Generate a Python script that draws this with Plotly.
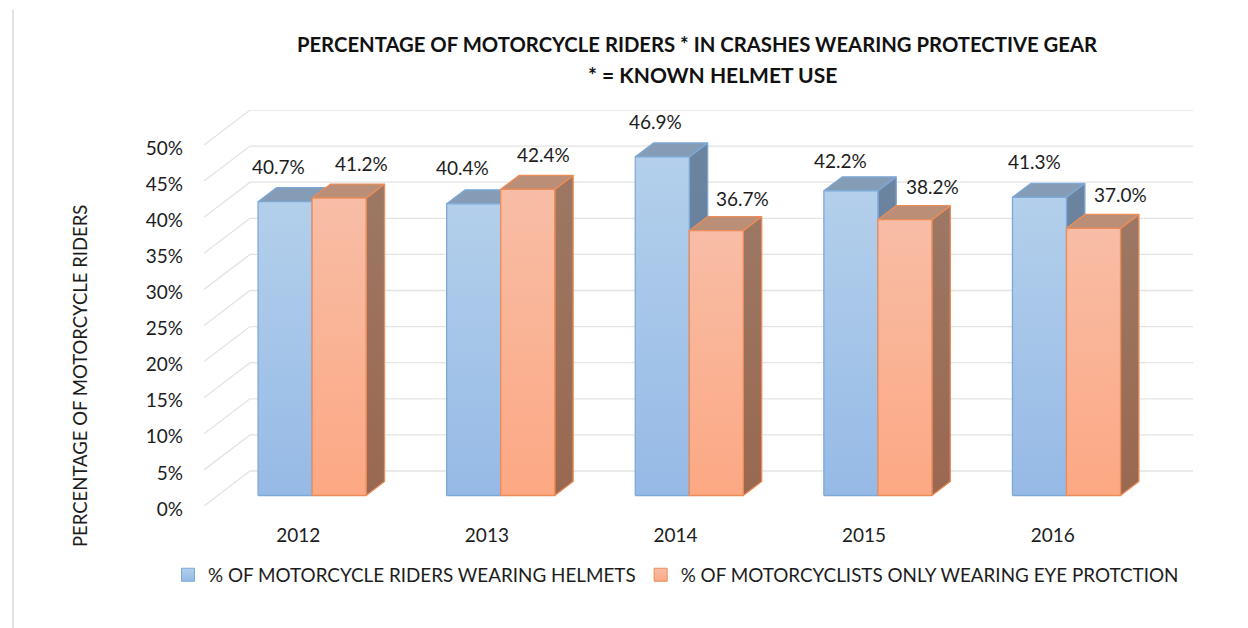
import plotly.graph_objects as go

years = ["2012", "2013", "2014", "2015", "2016"]
helmet_pct = [40.7, 40.4, 46.9, 42.2, 41.3]
eye_pct = [41.2, 42.4, 36.7, 38.2, 37.0]
y_ticks = [0, 5, 10, 15, 20, 25, 30, 35, 40, 45, 50]
helmet_name = "% OF MOTORCYCLE RIDERS WEARING HELMETS"
eye_name = "% OF MOTORCYCLISTS ONLY WEARING EYE PROTCTION"
title_line_1 = "PERCENTAGE OF MOTORCYCLE RIDERS * IN CRASHES WEARING PROTECTIVE GEAR"
title_line_2 = "* = KNOWN HELMET USE"
y_title = "PERCENTAGE OF MOTORCYCLE RIDERS"

# label offsets in pixels from the top of each bar's front face
helmet_label_dx = [-7, -11, -7, -10, -5]
helmet_label_dy = [35, 36, 35, 30, 36]
eye_label_dx = [22, 16, 26, 28, 27]
eye_label_dy = [35, 35, 32, 33, 34]

# Pseudo-3D geometry (axis units)
PLOT_L, PLOT_R, PLOT_T, PLOT_B = 204, 1193, 110, 506
DEPTH_X = 46 / 188.5      # wall depth, in categories
DEPTH_Y = 35 / 7.22       # wall depth, in percentage points
BAR_W = 54 / 188.5
D_FRONT, D_BACK = 0.30, 0.70
X_MIN = -0.5
X_MAX = len(years) - 0.5 + DEPTH_X
Y_MAX = 50 + DEPTH_Y


def proj(x, v, d):
    return x + d * DEPTH_X, v + d * DEPTH_Y


def poly(points):
    xs, ys = zip(*points)
    return list(xs) + [xs[0]], list(ys) + [ys[0]]


def paper_x(px):
    return (px - PLOT_L) / (PLOT_R - PLOT_L)


def paper_y(px):
    return (PLOT_B - px) / (PLOT_B - PLOT_T)


fig = go.Figure()

# Walls: gridlines on the back wall and diagonals on the side wall
gx, gy = [], []
for v in y_ticks:
    a = proj(X_MIN, v, 0)
    b = proj(X_MIN, v, 1)
    c = proj(len(years) - 0.5, v, 1)
    gx += [a[0], b[0], c[0], None]
    gy += [a[1], b[1], c[1], None]
fig.add_trace(go.Scatter(x=gx, y=gy, mode="lines", line=dict(color="#e3e3e3", width=1.3),
                         hoverinfo="skip", showlegend=False, cliponaxis=False))

STYLES = [
    dict(edge="#7da9d8", front=("#96bae6", "#b3cfeb"), top="#859cb6", side=("#5f7a9c", "#6c849f")),
    dict(edge="#ec8c58", front=("#fca883", "#f8bda6"), top="#bb8e78", side=("#9a6850", "#9c7864")),
]


def face(points, color, edge):
    xs, ys = poly(points)
    kw = dict(fillcolor=color) if isinstance(color, str) else dict(
        fillgradient=dict(type="vertical",
                          colorscale=[[0, color[0]], [1, color[1]]],
                          start=min(ys), stop=max(ys)))
    fig.add_trace(go.Scatter(x=xs, y=ys, mode="lines", fill="toself",
                             line=dict(color=edge, width=1.3), showlegend=False,
                             hoverinfo="skip", cliponaxis=False, **kw))


for i in range(len(years)):
    for s, (vals, off) in enumerate(((helmet_pct, -BAR_W), (eye_pct, 0))):
        st = STYLES[s]
        v = vals[i]
        x0, x1 = i + off, i + off + BAR_W
        face([proj(x1, 0, D_FRONT), proj(x1, 0, D_BACK), proj(x1, v, D_BACK), proj(x1, v, D_FRONT)],
             st["side"], st["edge"])
        face([proj(x0, v, D_FRONT), proj(x1, v, D_FRONT), proj(x1, v, D_BACK), proj(x0, v, D_BACK)],
             st["top"], st["edge"])
        face([proj(x0, 0, D_FRONT), proj(x1, 0, D_FRONT), proj(x1, v, D_FRONT), proj(x0, v, D_FRONT)],
             st["front"], st["edge"])

# Legend entries
for name, st in ((helmet_name, STYLES[0]), (eye_name, STYLES[1])):
    fig.add_trace(go.Scatter(x=[None], y=[None], mode="markers", name=name,
                             marker=dict(symbol="square", size=13, color=st["front"][1],
                                         gradient=dict(type="vertical", color=st["front"][0]),
                                         line=dict(color=st["edge"], width=1))))

FONT = "Lato, 'Open Sans', sans-serif"
TEXT = "#1c1c1c"
TITLE_FONT = dict(size=20.3, family=FONT, color="#111111", weight="bold")
annotations = []
for vals, off, dxs, dys in ((helmet_pct, -BAR_W / 2, helmet_label_dx, helmet_label_dy),
                            (eye_pct, BAR_W / 2, eye_label_dx, eye_label_dy)):
    for i, v in enumerate(vals):
        px, py = proj(i + off, v, D_FRONT)
        annotations.append(dict(x=px, y=py, xref="x", yref="y", text=f"{v:.1f}%", showarrow=False,
                                xshift=dxs[i], yshift=dys[i], font=dict(size=19, color=TEXT, family=FONT)))
annotations.append(dict(x=paper_x(80), y=paper_y(376), xref="paper", yref="paper", text=y_title,
                        showarrow=False, textangle=-90, xanchor="center", yanchor="middle",
                        font=dict(size=18.5, color=TEXT, family=FONT)))
annotations.append(dict(x=paper_x(712), y=paper_y(75), xref="paper", yref="paper", text=title_line_2,
                        showarrow=False, xanchor="center", yanchor="middle",
                        font=dict(TITLE_FONT, size=21)))

fig.update_layout(
    width=1248, height=628, autosize=False,
    paper_bgcolor="white", plot_bgcolor="white",
    margin=dict(l=PLOT_L, r=1248 - PLOT_R, t=PLOT_T, b=628 - PLOT_B, pad=0),
    font=dict(family=FONT, color=TEXT),
    title=dict(text=title_line_1, x=697 / 1248, xanchor="center", y=1 - 45 / 628, yanchor="middle",
               font=TITLE_FONT),
    xaxis=dict(range=[X_MIN, X_MAX], tickmode="array", tickvals=list(range(len(years))), ticktext=years,
               showgrid=False, zeroline=False, showline=False, ticks="", ticklabelstandoff=16,
               tickfont=dict(size=19, family=FONT, color=TEXT)),
    yaxis=dict(range=[0, Y_MAX], tickmode="array", tickvals=y_ticks, ticktext=[f"{t}%" for t in y_ticks],
               showgrid=False, zeroline=False, showline=False, ticks="", ticklabelstandoff=20,
               ticklabelshift=3, tickfont=dict(size=19, family=FONT, color=TEXT)),
    legend=dict(orientation="h", x=paper_x(168), xanchor="left",
                y=paper_y(575), yanchor="middle",
                font=dict(size=18.85, family=FONT, color=TEXT), bgcolor="rgba(0,0,0,0)"),
    annotations=annotations,
    shapes=[dict(type="line", xref="paper", yref="paper",
                 x0=paper_x(13), x1=paper_x(13), y0=paper_y(10), y1=paper_y(628),
                 line=dict(color="#d9d9d9", width=1.5))],
)

fig.write_html("out.html", post_script="document.body.style.margin='0';",
               config=dict(displayModeBar=False))
